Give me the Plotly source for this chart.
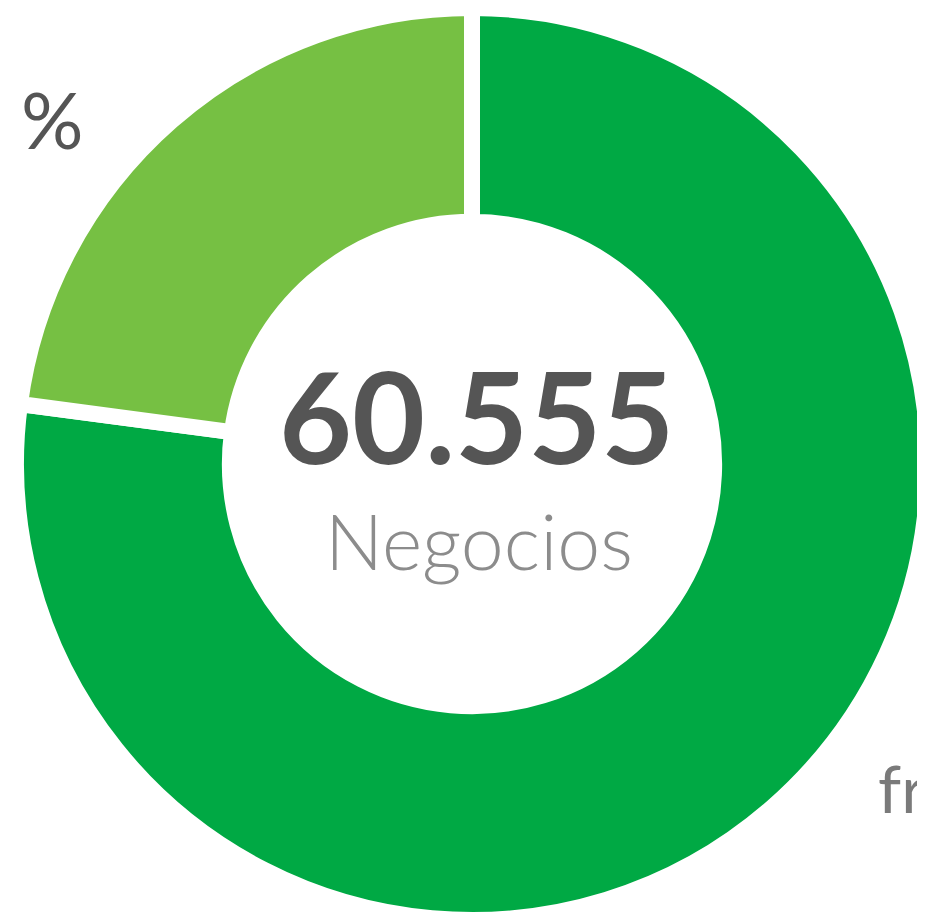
import plotly.graph_objects as go

# Data
segments = ["Segmento B", "Segmento A"]
shares = [77.1, 22.9]
colors = ["#00A944", "#76C043"]
total_label = "60.555"
total_caption = "Negocios"

W, H = 925, 918
ML, MR, MT, MB = 8, 5, 0, 6
OFF = 8  # page body offset

def px(sx):
    return (sx - OFF - ML) / (W - ML - MR)

def py(sy):
    return 1 - (sy - OFF - MT) / (H - MT - MB)

fig = go.Figure(
    go.Pie(
        labels=segments,
        values=shares,
        sort=False,
        direction="clockwise",
        rotation=0,
        hole=0.531,
        marker=dict(colors=colors, line=dict(color="white", width=16)),
        textinfo="none",
        hoverinfo="label+percent",
        showlegend=False,
    )
)

fig.add_annotation(
    x=px(476.5), y=py(415.5), xref="paper", yref="paper",
    text=total_label, showarrow=False,
    font=dict(family="Lato", size=126, color="#555555", weight="bold"),
    xanchor="center", yanchor="middle",
)
fig.add_annotation(
    x=px(478.5), y=py(540), xref="paper", yref="paper",
    text=total_caption, showarrow=False,
    font=dict(family="Lato", size=77, color="#8C8C8C", weight=300),
    xanchor="center", yanchor="middle",
)
fig.add_annotation(
    x=px(52.5), y=py(119), xref="paper", yref="paper",
    text="%", showarrow=False,
    font=dict(family="Lato", size=78, color="#555555"),
    xanchor="center", yanchor="middle",
)
fig.add_annotation(
    x=px(876), y=py(787), xref="paper", yref="paper",
    text="fr", showarrow=False,
    font=dict(family="Lato", size=66, color="#7A7A7A"),
    xanchor="left", yanchor="middle",
)

fig.update_layout(
    width=W, height=H,
    margin=dict(l=ML, r=MR, t=MT, b=MB, pad=0),
    paper_bgcolor="white", plot_bgcolor="white",
)

fig.write_html("out.html")
